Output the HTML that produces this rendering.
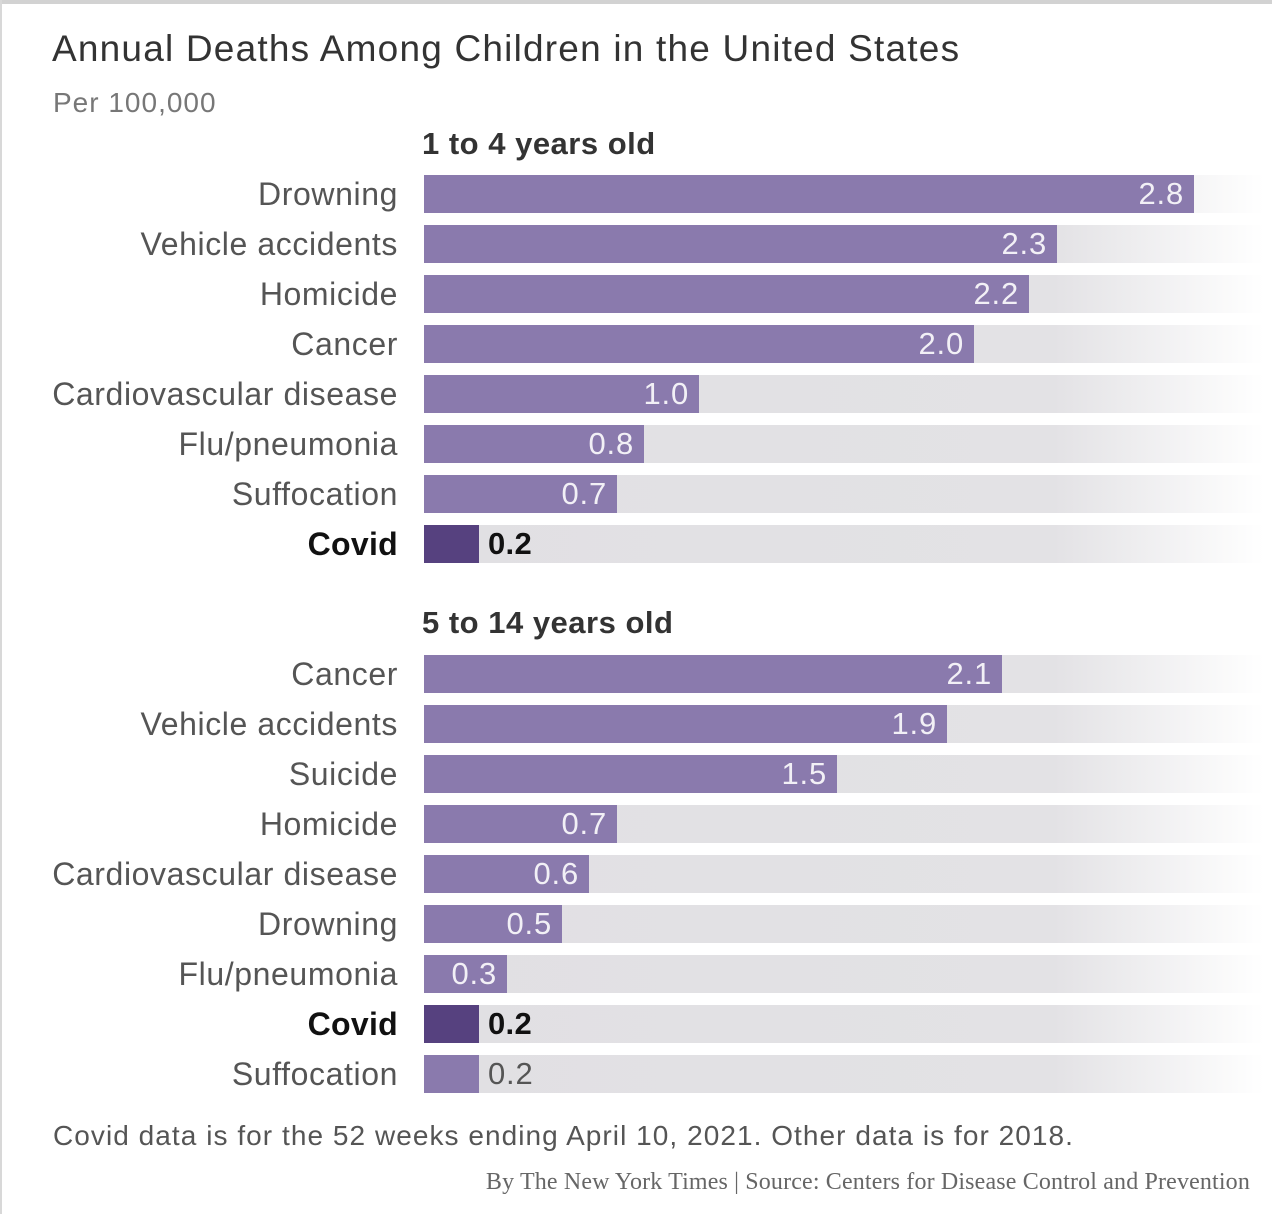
<!DOCTYPE html>
<html><head><meta charset="utf-8"><style>
html,body{margin:0;padding:0;background:#fff;}
body{width:1272px;height:1214px;position:relative;overflow:hidden;font-family:"Liberation Sans",sans-serif;}
.topb{position:absolute;left:0;top:0;width:1272px;height:4px;background:#d2d2d2;}
.leftb{position:absolute;left:0;top:0;width:2px;height:1214px;background:#d8d8d8;}
.t{position:absolute;white-space:nowrap;}
.lab{position:absolute;right:874px;font-size:32px;color:#555;line-height:38px;white-space:nowrap;letter-spacing:0.6px;}
.track{position:absolute;left:424px;width:840px;height:38px;background:linear-gradient(to right,#e1e0e3 0%,#e3e2e5 75%,#fff 100%);}
.bar{position:absolute;left:424px;height:38px;background:#8a7aad;}
.v{position:absolute;font-size:31px;line-height:38px;color:#f2f0f6;text-align:right;letter-spacing:0.8px;}
.b{font-weight:bold;color:#111;letter-spacing:0.3px;}
</style></head><body>
<div class="topb"></div><div class="leftb"></div>
<div class="t" style="left:52px;top:28px;font-size:37px;color:#333;letter-spacing:1.2px;">Annual Deaths Among Children in the United States</div>
<div class="t" style="left:53px;top:87px;font-size:28px;color:#777;letter-spacing:1px;">Per 100,000</div>
<div class="t" style="left:422px;top:126px;font-size:31px;font-weight:bold;color:#333;letter-spacing:0.5px;">1 to 4 years old</div>
<div class="t" style="left:422px;top:605px;font-size:31px;font-weight:bold;color:#333;letter-spacing:0.5px;">5 to 14 years old</div>
<div id="c"></div>
<div class="t" style="left:53px;top:1120px;font-size:28px;color:#555;letter-spacing:1.05px;">Covid data is for the 52 weeks ending April 10, 2021. Other data is for 2018.</div>
<div class="t" style="right:22px;top:1169px;font-size:24px;color:#666;font-family:'Liberation Serif',serif;letter-spacing:0.15px;">By The New York Times | Source: Centers for Disease Control and Prevention</div>
<script>
var g=[[175,[["Drowning",2.8],["Vehicle accidents",2.3],["Homicide",2.2],["Cancer",2.0],["Cardiovascular disease",1.0],["Flu/pneumonia",0.8],["Suffocation",0.7],["Covid",0.2]]],
[655,[["Cancer",2.1],["Vehicle accidents",1.9],["Suicide",1.5],["Homicide",0.7],["Cardiovascular disease",0.6],["Drowning",0.5],["Flu/pneumonia",0.3],["Covid",0.2],["Suffocation",0.2]]]];
var h="";
g.forEach(function(gr){gr[1].forEach(function(r,i){var y=gr[0]+i*50;var w=Math.round(r[1]*275);var cv=r[0]=="Covid";
h+='<div class="track" style="top:'+y+'px"></div>';
h+='<div class="bar" style="top:'+y+'px;width:'+w+'px;'+(cv?'background:#56417f':'')+'"></div>';
h+='<div class="lab'+(cv?' b':'')+'" style="top:'+y+'px">'+r[0]+'</div>';
var s=r[1].toFixed(1);
if(w>80)h+='<div class="v" style="top:'+y+'px;left:424px;width:'+(w-10)+'px">'+s+'</div>';
else h+='<div class="v'+(cv?' b':'')+'" style="top:'+y+'px;left:'+(424+w+9)+'px;text-align:left;'+(cv?'':'color:#555')+'">'+s+'</div>';
});});
document.getElementById("c").innerHTML=h;
</script>
</body></html>
